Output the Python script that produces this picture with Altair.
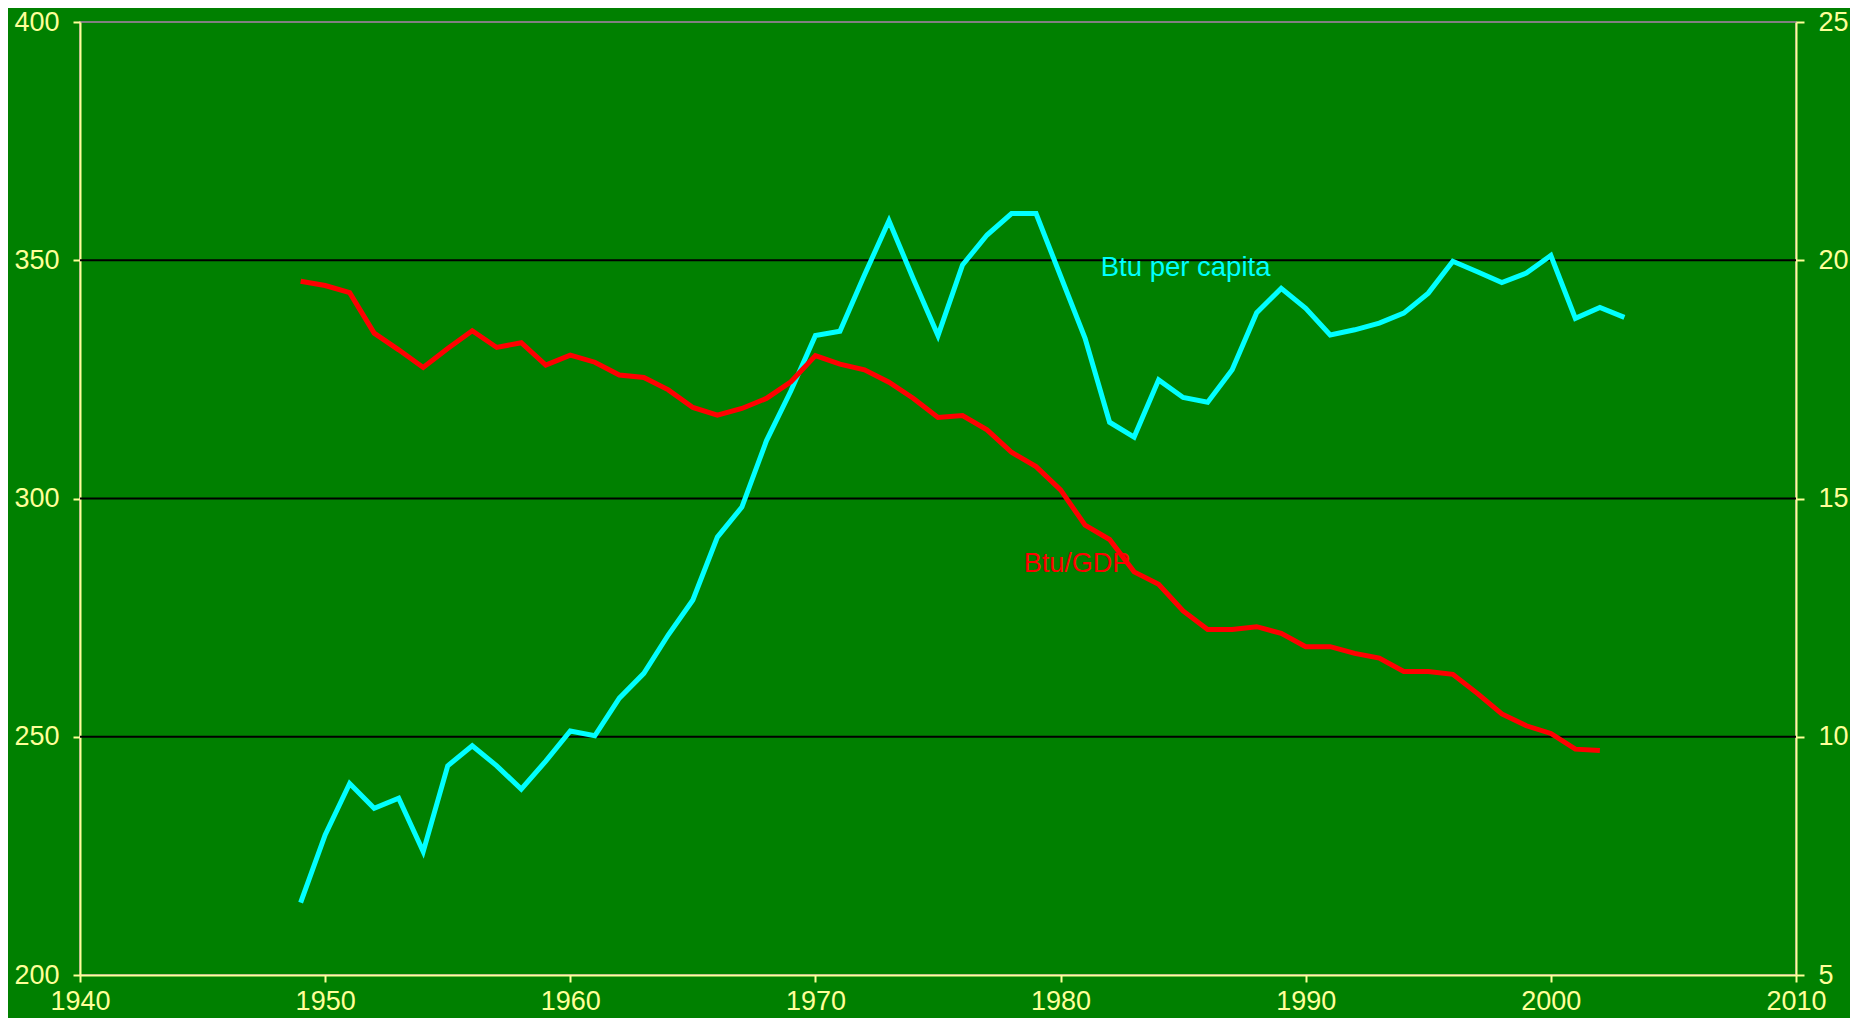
import altair as alt
import pandas as pd

# ---- data ----
years_capita = list(range(1949, 2004))
btu_per_capita = [215.2, 229.4, 240.2, 235.0, 237.1, 225.9, 243.9, 248.1, 243.9, 239.0,
                  244.9, 251.2, 250.2, 258.1, 263.3, 271.4, 278.7, 291.9, 298.2, 312.1,
                  322.6, 334.2, 335.1, 346.9, 358.3, 346.0, 334.2, 349.0, 355.3, 359.8,
                  359.8, 346.7, 333.6, 316.0, 312.9, 324.9, 321.2, 320.2, 327.0, 339.0,
                  344.1, 339.9, 334.3, 335.4, 336.8, 338.9, 343.1, 349.8, 347.6, 345.3,
                  347.3, 351.0, 337.8, 340.1, 338.0]

years_gdp = list(range(1949, 2003))
btu_per_gdp = [19.56, 19.47, 19.32, 18.47, 18.12, 17.75, 18.15, 18.52, 18.17, 18.27,
               17.80, 18.01, 17.86, 17.59, 17.54, 17.28, 16.91, 16.75, 16.89, 17.10,
               17.45, 18.00, 17.82, 17.70, 17.44, 17.10, 16.70, 16.74, 16.44, 15.97,
               15.67, 15.18, 14.44, 14.14, 13.46, 13.20, 12.64, 12.25, 12.25, 12.31,
               12.17, 11.89, 11.89, 11.75, 11.65, 11.37, 11.37, 11.31, 10.91, 10.48,
               10.23, 10.07, 9.74, 9.71]

x_ticks = [1940, 1950, 1960, 1970, 1980, 1990, 2000, 2010]
left_ticks = [200, 250, 300, 350, 400]
right_ticks = [5, 10, 15, 20, 25]
grid_values = [250, 300, 350]

label_text = ["Btu per capita", "Btu/GDP"]
label_year = [1981.64, 1978.50]
label_value = [346.75, 13.46]   # first on left scale, second on right scale

# ---- styling ----
BG = "#008000"
AXIS = "#FFFF99"
FONT = "Liberation Sans"
CYAN = "#00FFFF"
RED = "#FF0000"

cap_df = pd.DataFrame({"year": years_capita, "value": btu_per_capita})
gdp_df = pd.DataFrame({"year": years_gdp, "value": btu_per_gdp})
grid_df = pd.DataFrame({"value": grid_values})
lab_left = pd.DataFrame({"year": [label_year[0]], "value": [label_value[0]], "t": [label_text[0]]})
lab_right = pd.DataFrame({"year": [label_year[1]], "value": [label_value[1]], "t": [label_text[1]]})

x_scale = alt.Scale(domain=[1940, 2010], nice=False, zero=False)
yl_scale = alt.Scale(domain=[200, 400], nice=False, zero=False)
yr_scale = alt.Scale(domain=[5, 25], nice=False, zero=False)

# identical axis definitions in every layer that shares a scale
x_axis = alt.Axis(values=x_ticks, format="d", title="", orient="bottom",
                  labelPadding=6, tickSize=7, grid=False, labelFlush=False,
                  labelOverlap=False)
yl_axis = alt.Axis(values=left_ticks, format="d", title="", orient="left",
                   tickSize=7, labelPadding=14, grid=False, labelFlush=False,
                   labelOverlap=False)
yr_axis = alt.Axis(values=right_ticks, format="d", title="", orient="right",
                   tickSize=8, labelPadding=14, grid=False, labelFlush=False,
                   labelOverlap=False)

grid = alt.Chart(grid_df).mark_rule(color="black", strokeWidth=2).encode(
    y=alt.Y("value:Q", scale=yl_scale, axis=yl_axis),
)

cap_line = alt.Chart(cap_df).mark_line(color=CYAN, strokeWidth=5).encode(
    x=alt.X("year:Q", scale=x_scale, axis=x_axis),
    y=alt.Y("value:Q", scale=yl_scale, axis=yl_axis),
)

cap_label = alt.Chart(lab_left).mark_text(
    color=CYAN, font=FONT, fontSize=27.5, align="left", baseline="alphabetic"
).encode(
    x=alt.X("year:Q", scale=x_scale, axis=x_axis),
    y=alt.Y("value:Q", scale=yl_scale, axis=yl_axis),
    text="t:N",
)

gdp_line = alt.Chart(gdp_df).mark_line(color=RED, strokeWidth=5).encode(
    x=alt.X("year:Q", scale=x_scale, axis=x_axis),
    y=alt.Y("value:Q", scale=yr_scale, axis=yr_axis),
)

gdp_label = alt.Chart(lab_right).mark_text(
    color=RED, font=FONT, fontSize=27, align="left", baseline="alphabetic"
).encode(
    x=alt.X("year:Q", scale=x_scale, axis=x_axis),
    y=alt.Y("value:Q", scale=yr_scale, axis=yr_axis),
    text="t:N",
)

left_layer = alt.layer(grid, cap_line, cap_label)
right_layer = alt.layer(gdp_line, gdp_label)

chart = alt.layer(left_layer, right_layer).resolve_scale(
    y="independent"
).properties(
    width=1716,
    height=953,
    background=BG,
    padding={"left": 72, "top": 14, "right": 54, "bottom": 43},
    autosize=alt.AutoSizeParams(type="none"),
).configure_view(
    fill=BG,
    stroke="#808080",
    strokeWidth=2,
).configure_axis(
    domainColor=AXIS,
    domainWidth=2,
    tickColor=AXIS,
    tickWidth=2,
    labelColor=AXIS,
    labelFont=FONT,
    labelFontSize=27,
)

chart.save("out.html", embed_options={"renderer": "svg", "actions": False})
